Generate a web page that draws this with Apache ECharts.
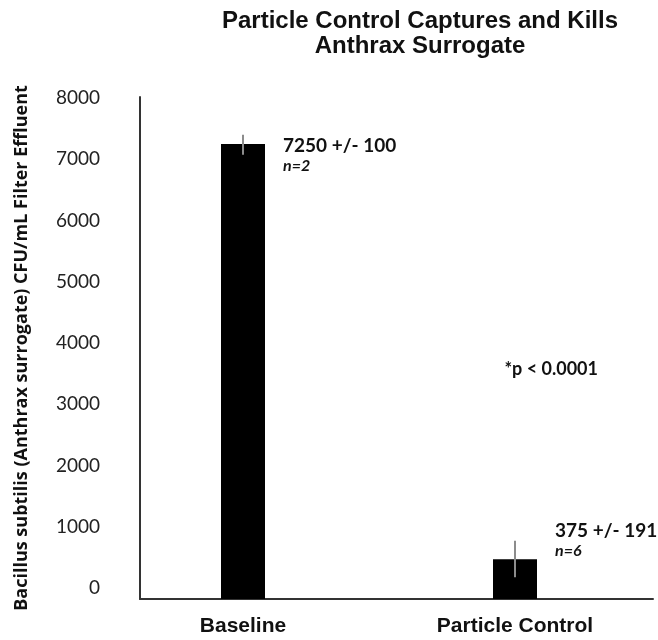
<!DOCTYPE html>
<html><head><meta charset="utf-8">
<script src="https://cdn.jsdelivr.net/npm/echarts@6/dist/echarts.min.js"></script>
<style>html,body{margin:0;padding:0;background:#fff}#c{width:658px;height:640px}</style>
</head><body><div id="c"></div>
<script>
const categories = ['Baseline', 'Particle Control'];
const values = [7250, 635];
const errLow = [7080, 345];
const errHigh = [7400, 930];
const meanLabels = ['7250 +/- 100', '375 +/- 191'];
const nLabels = ['n=2', 'n=6'];
const yMin = 0, yMax = 8000, yInterval = 1000;
const titleText = 'Particle Control Captures and Kills\nAnthrax Surrogate';
const yName = 'Bacillus subtilis (Anthrax surrogate) CFU/mL Filter Effluent';
const pText = '*p < 0.0001';

const labelOffsets = [[18, -8], [18, -38]];
const sans = 'Lato';

const chart = echarts.init(document.getElementById('c'));
chart.setOption({
  animation: false,
  backgroundColor: '#fff',
  graphic: [
    { type: 'text', x: 420, y: 9, style: { text: titleText, font: 'bold 24px "Liberation Sans"', fill: '#111', textAlign: 'center', textVerticalAlign: 'top', lineHeight: 25 } },
    { type: 'text', x: 598, y: 369, style: { text: pText, font: 'bold 18px ' + sans, fill: '#111', textAlign: 'right', textVerticalAlign: 'middle' } }
  ],
  grid: [
    { left: 107, right: 7, top: 97, bottom: 41 },
    { left: 140, right: 5, top: 97, bottom: 41 },
    { left: 140, right: 5, top: 98, bottom: 52 }
  ],
  xAxis: [
    { type: 'category', gridIndex: 0, data: categories, axisLine: { show: false }, axisTick: { show: false },
      axisLabel: { margin: 17, color: '#111', fontFamily: 'Liberation Sans', fontWeight: 'bold', fontSize: 21 } },
    { type: 'category', gridIndex: 1, data: categories, axisLine: { show: true, lineStyle: { color: '#333', width: 2 } }, axisTick: { show: false }, axisLabel: { show: false } },
    { type: 'category', gridIndex: 2, data: categories, show: false }
  ],
  yAxis: [
    { type: 'value', gridIndex: 0, min: yMin, max: yMax, interval: yInterval, show: false },
    { type: 'value', gridIndex: 1, min: yMin, max: yMax, interval: yInterval,
      axisLine: { show: true, lineStyle: { color: '#333', width: 2 } }, axisTick: { show: false }, axisLabel: { show: false }, splitLine: { show: false },
      name: yName, nameLocation: 'middle', nameRotate: 90, nameGap: 109,
      nameTextStyle: { fontFamily: 'Open Sans', fontWeight: 'bold', fontSize: 18, color: '#111' } },
    { type: 'value', gridIndex: 2, min: yMin, max: yMax, interval: yInterval,
      axisLine: { show: false }, axisTick: { show: false }, splitLine: { show: false },
      axisLabel: { margin: 40, color: '#222', fontFamily: sans, fontSize: 19, formatter: v => String(v) } }
  ],
  series: [
    {
      type: 'bar', xAxisIndex: 0, yAxisIndex: 0, barWidth: 44,
      itemStyle: { color: '#000' },
      data: values.map((v, i) => ({
        value: v,
        label: {
          show: true, position: ['100%', 0], offset: labelOffsets[i], align: 'left', verticalAlign: 'top',
          formatter: '{a|' + meanLabels[i] + '}\n{n|' + nLabels[i] + '}',
          rich: {
            a: { fontFamily: sans, fontWeight: 'bold', fontSize: 19, lineHeight: 20, color: '#111' },
            n: { fontFamily: sans, fontWeight: 'bold', fontStyle: 'italic', fontSize: 16, lineHeight: 20, color: '#111' }
          }
        }
      }))
    },
    {
      type: 'custom', xAxisIndex: 0, yAxisIndex: 0, z: 5,
      data: categories.map((c, i) => [i, errLow[i], errHigh[i]]),
      renderItem: function (params, api) {
        const lo = api.coord([api.value(0), api.value(1)]);
        const hi = api.coord([api.value(0), api.value(2)]);
        return { type: 'line', shape: { x1: lo[0], y1: lo[1], x2: hi[0], y2: hi[1] }, style: { stroke: '#8c8c8c', lineWidth: 2 } };
      }
    }
  ]
});
</script></body></html>
